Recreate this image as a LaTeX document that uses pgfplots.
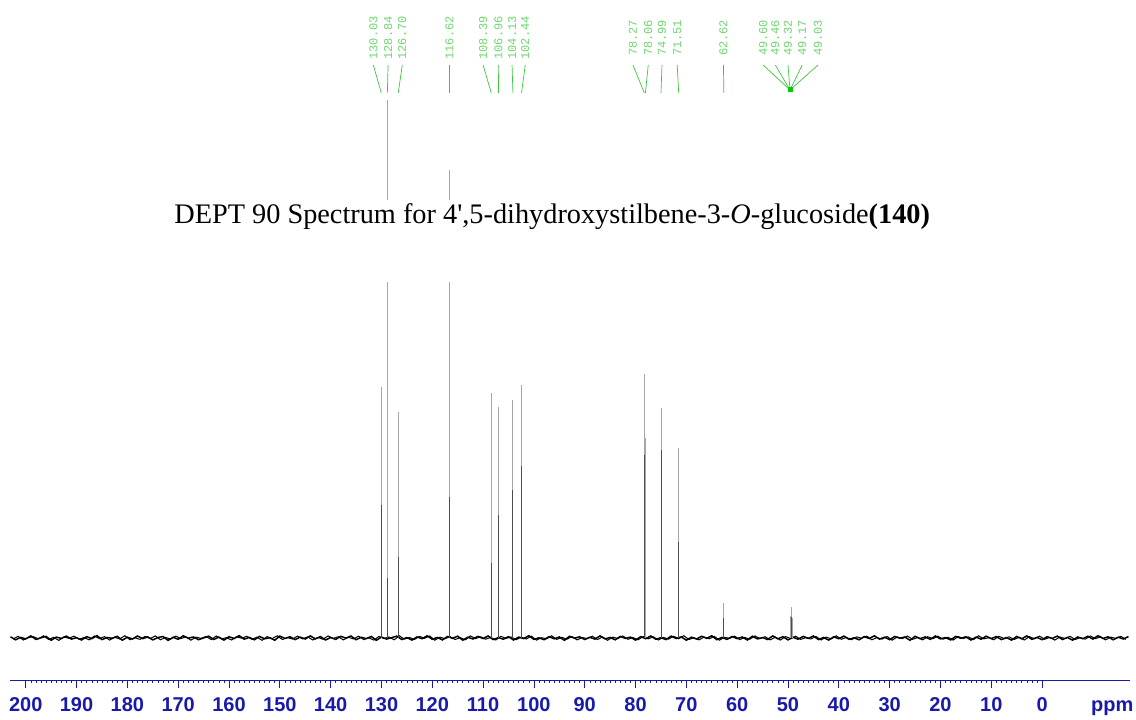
\documentclass[border=0pt]{standalone}
\usepackage{pgfplots}
\pgfplotsset{compat=1.18}
\usepackage{fontspec}
\setmainfont{Liberation Serif}
\newfontfamily\arialfont{Liberation Sans}
\newfontfamily\monofont{Liberation Mono}
\definecolor{axblue}{RGB}{25,25,170}
\definecolor{lblgreen}{RGB}{110,215,110}
\definecolor{lngreen}{RGB}{60,200,60}
\begin{document}
\begin{tikzpicture}
\useasboundingbox (0,0) rectangle (1136pt,720pt);
\begin{axis}[
  at={(10pt,40pt)}, anchor=south west,
  scale only axis, width=1120pt, height=680pt,
  x dir=reverse, xmin=-17.3, xmax=203.1, ymin=-42, ymax=638,
  axis x line*=bottom, axis y line=none,
  xtick={0,10,...,200}, minor x tick num=9,
  tick align=outside, major tick length=8pt, minor tick length=3pt,
  every tick/.style={axblue, line width=0.8pt},
  every minor tick/.style={axblue, line width=0.6pt},
  x axis line style={axblue, line width=0.6pt},
  x tick label style={font=\arialfont\bfseries\fontsize{20}{20}\selectfont, text=axblue, yshift=-6pt, /pgf/number format/assume math mode=true},
  clip=false,
]
% baseline noise
\addplot[black, line width=1.5pt] coordinates {
(203,1.2)(202,-1.8)(201,0.6)(200,-0.9)(199,2.1)(198,-1.4)(197,0.2)(196,1.6)(195,-2.3)(194,0.9)
(193,-0.4)(192,1.9)(191,-1.1)(190,0.3)(189,-2.0)(188,1.4)(187,-0.7)(186,2.4)(185,-1.6)(184,0.5)
(183,-0.3)(182,1.7)(181,-2.2)(180,0.8)(179,-1.0)(178,2.0)(177,-0.6)(176,1.1)(175,-1.9)(174,0.4)
(173,1.5)(172,-2.4)(171,0.7)(170,-1.3)(169,2.2)(168,-0.2)(167,1.0)(166,-1.7)(165,0.1)(164,1.8)
(163,-1.5)(162,0.9)(161,-2.1)(160,1.3)(159,-0.5)(158,2.3)(157,-1.2)(156,0.6)(155,-1.8)(154,1.6)
(153,-0.8)(152,0.2)(151,-2.2)(150,1.9)(149,-0.4)(148,1.2)(147,-1.6)(146,0.8)(145,-1.0)(144,2.1)
(143,-0.9)(142,1.4)(141,-2.0)(140,0.5)(139,-1.4)(138,1.7)(137,-0.1)(136,2.0)(135,-1.7)(134,0.7)
(133,-0.6)(132,1.5)(131,-2.3)(130,1.0)(129,-1.1)(128,0.3)(127,1.9)(126,-1.5)(125,0.4)(124,-2.1)
(123,1.1)(122,-0.7)(121,2.2)(120,-1.3)(119,0.6)(118,-1.9)(117,1.5)(116,-0.3)(115,1.8)(114,-2.2)
(113,0.8)(112,-1.0)(111,1.6)(110,-0.5)(109,2.0)(108,-1.6)(107,0.4)(106,-1.2)(105,1.3)(104,-2.0)
(103,0.9)(102,-0.6)(101,2.3)(100,-1.4)(99,0.2)(98,-1.7)(97,1.4)(96,-0.8)(95,1.0)(94,-2.3)
(93,1.7)(92,-0.2)(91,1.2)(90,-1.5)(89,0.7)(88,-1.1)(87,2.1)(86,-0.9)(85,0.5)(84,-1.8)
(83,1.6)(82,-0.4)(81,0.9)(80,-2.1)(79,1.3)(78,-0.7)(77,2.0)(76,-1.3)(75,0.3)(74,-1.6)
(73,1.9)(72,-0.5)(71,1.1)(70,-2.2)(69,0.8)(68,-1.0)(67,1.7)(66,-0.3)(65,2.2)(64,-1.7)
(63,0.6)(62,-1.4)(61,1.5)(60,-0.6)(59,1.0)(58,-2.0)(57,1.8)(56,-0.9)(55,0.4)(54,-1.5)
(53,2.1)(52,-0.8)(51,1.3)(50,-1.9)(49,0.7)(48,-1.2)(47,1.6)(46,-0.4)(45,2.0)(44,-1.6)
(43,0.5)(42,-2.1)(41,1.2)(40,-0.7)(39,1.9)(38,-1.3)(37,0.2)(36,-1.8)(35,1.4)(34,-0.5)
(33,2.2)(32,-1.1)(31,0.8)(30,-1.7)(29,1.5)(28,-0.2)(27,1.0)(26,-2.3)(25,1.7)(24,-0.6)
(23,1.1)(22,-1.4)(21,2.0)(20,-0.9)(19,0.4)(18,-1.9)(17,1.6)(16,-0.3)(15,1.2)(14,-2.0)
(13,0.9)(12,-1.2)(11,1.8)(10,-0.6)(9,1.4)(8,-1.6)(7,0.3)(6,-2.1)(5,1.5)(4,-0.8)
(3,2.1)(2,-1.3)(1,0.6)(0,-1.7)(-1,1.3)(-2,-0.4)(-3,1.9)(-4,-1.5)(-5,0.5)(-6,-2.2)
(-7,1.0)(-8,-0.7)(-9,1.7)(-10,-1.1)(-11,2.3)(-12,-0.5)(-13,1.2)(-14,-1.8)(-15,0.8)(-16,-1.0)
(-17,1.4)
};
\addplot[black, line width=1.0pt] coordinates {
(202.5,-1.1)(201.5,1.7)(200.5,-2.0)(199.5,0.4)(198.5,1.3)(197.5,-0.8)(196.5,2.2)(195.5,-1.5)(194.5,0.7)(193.5,-2.4)
(192.5,1.0)(191.5,-0.3)(190.5,1.8)(189.5,-1.2)(188.5,0.5)(187.5,-1.9)(186.5,2.0)(185.5,-0.6)(184.5,1.4)(183.5,-2.1)
(182.5,0.8)(181.5,-1.0)(180.5,2.3)(179.5,-1.7)(178.5,0.2)(177.5,-1.4)(176.5,1.6)(175.5,-0.5)(174.5,2.1)(173.5,-1.8)
(172.5,0.6)(171.5,-1.1)(170.5,1.9)(169.5,-0.7)(168.5,1.2)(167.5,-2.2)(166.5,0.9)(165.5,-0.4)(164.5,1.5)(163.5,-1.6)
(162.5,2.0)(161.5,-0.9)(160.5,0.3)(159.5,-2.0)(158.5,1.1)(157.5,-0.2)(156.5,1.7)(155.5,-1.3)(154.5,0.8)(153.5,-2.3)
(152.5,1.4)(151.5,-0.6)(150.5,2.2)(149.5,-1.5)(148.5,0.4)(147.5,-1.0)(146.5,1.9)(145.5,-0.8)(144.5,1.1)(143.5,-2.0)
(142.5,0.6)(141.5,-1.3)(140.5,2.1)(139.5,-0.4)(138.5,1.3)(137.5,-1.9)(136.5,0.7)(135.5,-0.9)(134.5,1.8)(133.5,-1.6)
(132.5,0.2)(131.5,-2.1)(130.5,1.5)(129.5,-0.5)(128.5,1.0)(127.5,-1.8)(126.5,2.3)(125.5,-1.1)(124.5,0.5)(123.5,-1.4)
(122.5,1.6)(121.5,-0.3)(120.5,2.0)(119.5,-2.2)(118.5,0.9)(117.5,-0.7)(116.5,1.3)(115.5,-1.5)(114.5,0.4)(113.5,-1.9)
(112.5,2.1)(111.5,-0.6)(110.5,1.2)(109.5,-1.2)(108.5,0.6)(107.5,-2.0)(106.5,1.7)(105.5,-0.4)(104.5,1.0)(103.5,-1.7)
(102.5,0.8)(101.5,-1.0)(100.5,1.9)(99.5,-2.1)(98.5,0.3)(97.5,-0.8)(96.5,2.2)(95.5,-1.4)(94.5,0.7)(93.5,-1.2)
(92.5,1.4)(91.5,-1.9)(90.5,0.5)(89.5,-0.6)(88.5,1.8)(87.5,-1.6)(86.5,1.1)(85.5,-2.3)(84.5,0.9)(83.5,-0.5)
(82.5,2.0)(81.5,-1.3)(80.5,0.4)(79.5,-1.8)(78.5,1.5)(77.5,-0.9)(76.5,1.2)(75.5,-2.0)(74.5,0.6)(73.5,-1.1)
(72.5,1.7)(71.5,-0.7)(70.5,2.3)(69.5,-1.5)(68.5,0.2)(67.5,-1.9)(66.5,1.0)(65.5,-0.8)(64.5,1.6)(63.5,-2.2)
(62.5,0.7)(61.5,-0.4)(60.5,1.9)(59.5,-1.6)(58.5,0.5)(57.5,-1.2)(56.5,2.1)(55.5,-0.6)(54.5,1.3)(53.5,-1.9)
(52.5,0.8)(51.5,-2.1)(50.5,1.4)(49.5,-0.5)(48.5,1.8)(47.5,-1.4)(46.5,0.3)(45.5,-1.0)(44.5,1.6)(43.5,-2.0)
(42.5,0.9)(41.5,-0.9)(40.5,2.2)(39.5,-1.3)(38.5,0.6)(37.5,-1.7)(36.5,1.1)(35.5,-0.3)(34.5,1.9)(33.5,-1.8)
(32.5,0.4)(31.5,-1.1)(30.5,1.6)(29.5,-2.2)(28.5,1.0)(27.5,-0.6)(26.5,2.0)(25.5,-1.4)(24.5,0.5)(23.5,-1.9)
(22.5,1.3)(21.5,-0.7)(20.5,1.8)(19.5,-1.2)(18.5,0.7)(17.5,-2.1)(16.5,1.5)(15.5,-0.5)(14.5,1.1)(13.5,-1.6)
(12.5,2.2)(11.5,-0.9)(10.5,0.3)(9.5,-1.8)(8.5,1.7)(7.5,-0.4)(6.5,1.2)(5.5,-1.5)(4.5,0.8)(3.5,-2.0)
(2.5,1.4)(1.5,-0.8)(0.5,1.9)(-0.5,-1.3)(-1.5,0.6)(-2.5,-2.1)(-3.5,1.0)(-4.5,-0.5)(-5.5,1.7)(-6.5,-1.6)
(-7.5,0.4)(-8.5,-1.2)(-9.5,2.1)(-10.5,-0.7)(-11.5,1.3)(-12.5,-1.9)(-13.5,0.9)(-14.5,-0.4)(-15.5,1.6)(-16.5,-1.4)
};
% peaks (light full height)
\addplot[ycomb, black!35, line width=0.9pt] coordinates {
(130.03,251)(128.84,538)(126.70,226)(116.62,468)
(108.39,245)(106.96,231)(104.13,238)(102.44,253)
(78.27,264)(78.06,200)(74.99,230)(71.51,190)(62.62,35)
(49.60,12)(49.46,22)(49.32,31)(49.17,20)(49.03,10)
};
% peaks (darker lower parts)
\addplot[ycomb, black!70, line width=0.9pt] coordinates {
(130.03,133)(128.84,60)(126.70,81)(116.62,141)
(108.39,75)(106.96,123)(104.13,148)(102.44,172)
(78.27,183)(74.99,188)(71.51,96)(62.62,20)(49.32,21)
};
% peak labels
\foreach \lx/\px/\t in {131.6/130.03/130.03, 128.7/128.84/128.84, 125.9/126.70/126.70,
  116.62/116.62/116.62,
  110.0/108.39/108.39, 107.0/106.96/106.96, 104.3/104.13/104.13, 101.7/102.44/102.44,
  80.5/78.27/78.27, 77.5/78.06/78.06, 74.8/74.99/74.99, 71.8/71.51/71.51,
  62.7/62.62/62.62}{
  \edef\tmp{\noexpand\node[rotate=90, font=\noexpand\monofont\noexpand\fontsize{12}{12}\noexpand\selectfont, text=lblgreen] at (axis cs:\lx,600) {\t};
  \noexpand\draw[lngreen, line width=0.7pt] (axis cs:\lx,573) -- (axis cs:\px,545);}
  \tmp
}
\foreach \lx/\t in {54.9/49.60, 52.5/49.46, 50.0/49.32, 47.2/49.17, 44.1/49.03}{
  \edef\tmp{\noexpand\node[rotate=90, font=\noexpand\monofont\noexpand\fontsize{12}{12}\noexpand\selectfont, text=lblgreen] at (axis cs:\lx,600) {\t};
  \noexpand\draw[lngreen, line width=0.7pt] (axis cs:\lx,573) -- (axis cs:49.6,548);}
  \tmp
}
\fill[green!80!black] (axis cs:49.6,548) +(-2.5pt,-2.5pt) rectangle +(2.5pt,2.5pt);
% white title band that hides the peak lines behind it
\fill[white] (axis cs:133,438) rectangle (axis cs:112,356);
% title
\node[font=\fontsize{28.3}{28.3}\selectfont, inner sep=0pt] at (axis cs:96.4,421)
  {DEPT 90 Spectrum for 4\textquotesingle,5-dihydroxystilbene-3-\textit{O}-glucoside\textbf{(140)}};
% unit
\node[font=\arialfont\bfseries\fontsize{20}{20}\selectfont, text=axblue] at (axis cs:-13.8,-70) {ppm};
\end{axis}
\end{tikzpicture}
\end{document}
